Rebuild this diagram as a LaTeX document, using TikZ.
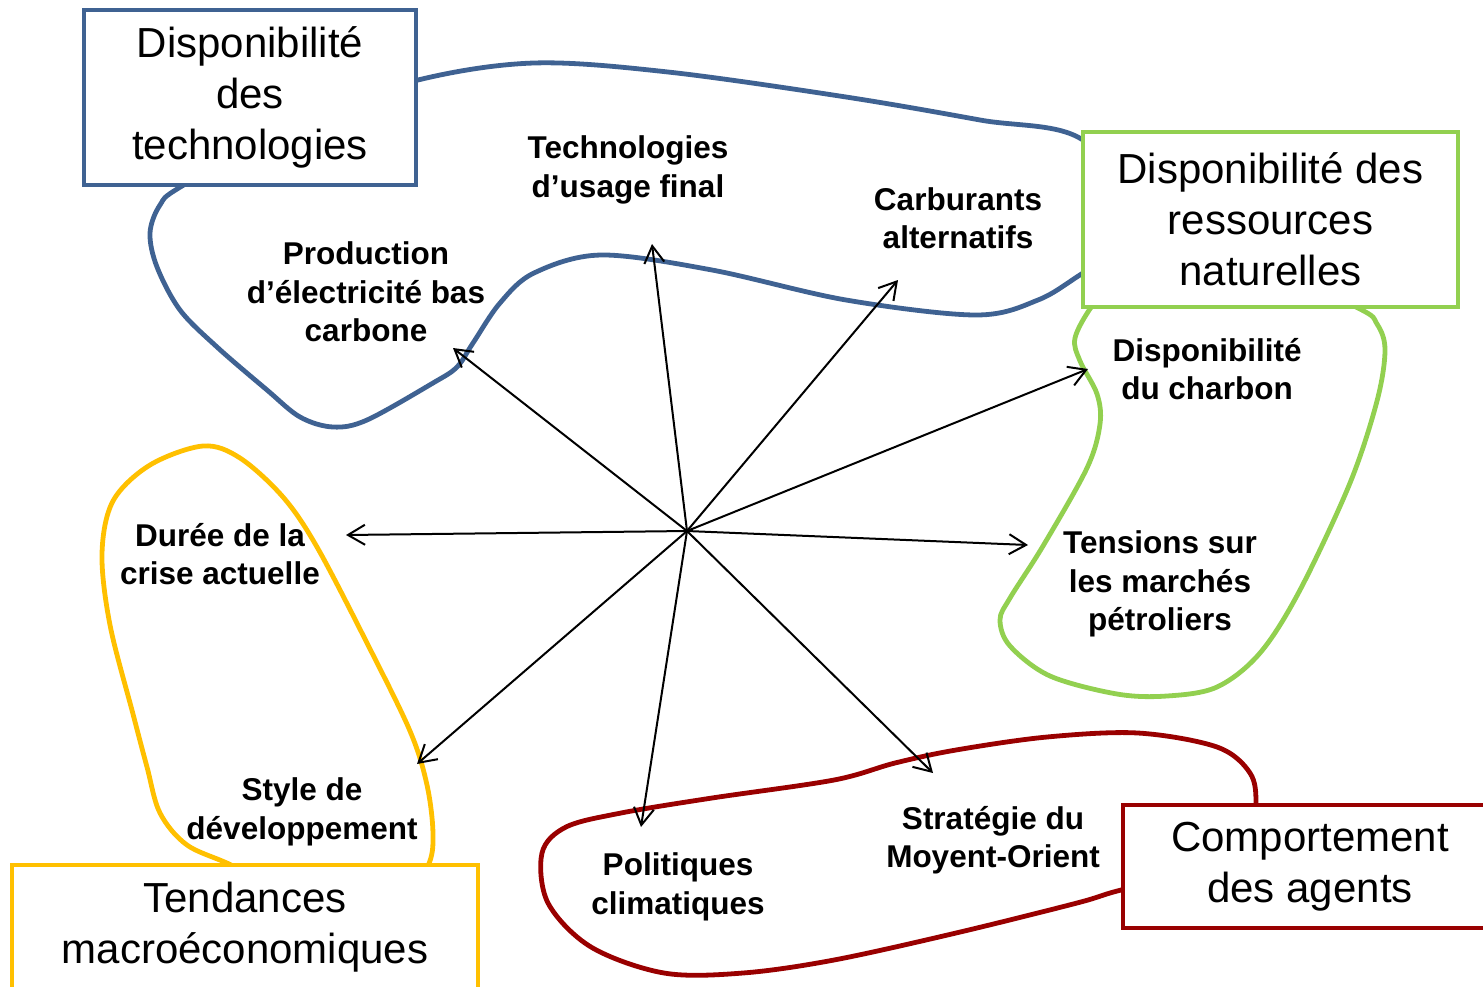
\documentclass[tikz,border=0pt]{standalone}
\usepackage{fontspec}
\setmainfont{Liberation Sans}
\usetikzlibrary{arrows.meta}
\definecolor{techblue}{RGB}{63,98,146}
\definecolor{resgreen}{RGB}{146,208,80}
\definecolor{macroyellow}{RGB}{255,192,0}
\definecolor{agentred}{RGB}{153,0,0}

\begin{document}
\begin{tikzpicture}[x=0.5pt, y=-0.5pt,
        bigbox/.style={draw, line width=1.8pt, fill=white, align=center, inner sep=0pt,
            font=\fontsize{21}{25.5}\selectfont},
        lbl/.style={align=center, font=\fontsize{15.75}{19.25}\selectfont\bfseries},
        blob/.style={line width=2.4pt},
        >={Straight Barb[length=8.5pt, width=10pt]}]
                \useasboundingbox (0,0) rectangle (1483,986);
                \draw[blob, techblue] plot[smooth cycle, tension=0.55] coordinates {
                    (300,120) (418,80) (534,63) (668,72) (846,97) (980,120) (1083,140) (1150,230)
                    (1083,273) (1038,300) (976,315) (846,300) (712,270) (601,255) (534,273) (500,303)
                    (473,343) (457,367) (433,383) (367,420) (333,427) (300,417) (267,390) (217,347)
                    (180,310) (157,267) (150,233) (160,205) (182,186)};
                \draw[blob, resgreen] plot[smooth cycle, tension=0.55] coordinates {
                    (1250,260) (1120,275) (1092,306) (1075,338) (1080,361) (1097,394) (1100,424)
                    (1087,468) (1043,546) (1010,598) (1000,620) (1010,646) (1050,676) (1117,694)
                    (1167,696) (1217,687) (1260,653) (1300,590) (1350,483) (1377,401) (1385,350)
                    (1377,324) (1358,308)};
                \draw[blob, macroyellow] plot[smooth cycle, tension=0.55] coordinates {
                    (400,910) (280,895) (233,866) (187,845) (160,813) (147,767) (133,714) (110,625)
                    (102,554) (113,501) (150,465) (203,446) (240,458) (283,497) (317,547) (367,643)
                    (410,731) (427,785) (433,834) (428,866)};
                \draw[blob, agentred] plot[smooth cycle, tension=0.55] coordinates {
                    (1250,860) (1256,806) (1250,773) (1217,747) (1138,733) (1047,737) (956,750)
                    (895,763) (834,780) (712,798) (621,813) (566,827) (542,853) (548,903) (591,947)
                    (664,973) (743,973) (834,960) (956,933) (1077,903) (1125,889)};

                \node[bigbox, draw=techblue, minimum width=166pt, minimum height=87.5pt] (techno) at (250,97.5) {Disponibilité\\des\\technologies};
                \node[bigbox, draw=resgreen, minimum width=187.5pt, minimum height=87.5pt] (ressources) at (1270.5,219.5) {Disponibilité des\\ressources\\naturelles};
                \node[bigbox, draw=macroyellow, minimum width=233pt, minimum height=62.5pt] (macro) at (245,927.5) {Tendances\\macroéconomiques};
                \node[bigbox, draw=agentred, minimum width=187pt, minimum height=61.5pt] (agents) at (1310,866.5) {Comportement\\des agents};

                \node[lbl] (usage) at (628,170) {Technologies\\d’usage final};
                \node[lbl] (carburants) at (958,218) {Carburants\\alternatifs};
                \node[lbl] (elec) at (366,292) {Production\\d’électricité bas\\carbone};
                \node[lbl] (charbon) at (1207,369) {Disponibilité\\du charbon};
                \node[lbl] (petrole) at (1160,584) {Tensions sur\\les marchés\\pétroliers};
                \node[lbl] (crise) at (220,554) {Durée de la\\crise actuelle};
                \node[lbl] (style) at (302,812) {Style de\\développement};
                \node[lbl] (climat) at (678,887) {Politiques\\climatiques};
                \node[lbl] (moyenorient) at (993,840) {Stratégie du\\Moyent-Orient};

                \coordinate (hub) at (687,531);
                \coordinate (usage-in) at (652,244);
                \coordinate (carburants-in) at (898,280);
                \coordinate (elec-in) at (453,348);
                \coordinate (charbon-in) at (1088,369);
                \coordinate (petrole-in) at (1028,545);
                \coordinate (crise-in) at (346,535);
                \coordinate (style-in) at (417,764);
                \coordinate (climat-in) at (641,827);
                \coordinate (moyenorient-in) at (933,773);
                \foreach \t in {usage, carburants, elec, charbon, petrole, crise, style, climat, moyenorient}
                    \draw[line width=1pt, ->] (hub) -- (\t-in);
            \end{tikzpicture}
\end{document}
